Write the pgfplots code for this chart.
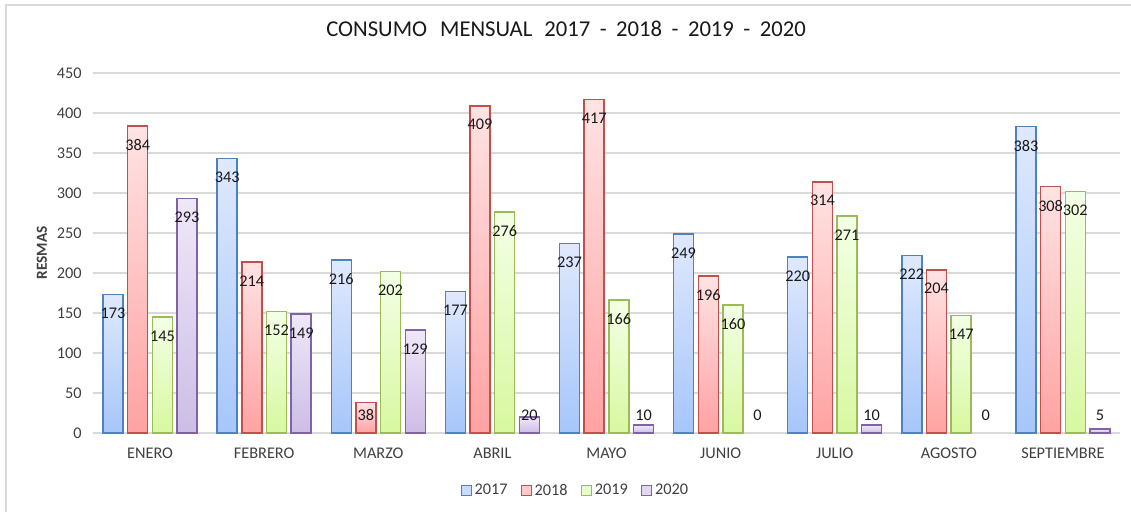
\documentclass[border=0pt]{standalone}
\usepackage{pgfplots}
\pgfplotsset{compat=1.18}
\usepackage{pgfplotstable}
\usepackage{fontspec}
\setmainfont{Carlito}

\definecolor{c17}{HTML}{4F81BD}
\definecolor{t17}{HTML}{DFE9FD}
\definecolor{b17}{HTML}{A6C6FA}
\definecolor{c18}{HTML}{C0504D}
\definecolor{t18}{HTML}{FFE3E3}
\definecolor{b18}{HTML}{FFA2A2}
\definecolor{c19}{HTML}{9BBB59}
\definecolor{t19}{HTML}{F3FFE6}
\definecolor{b19}{HTML}{D8F8A0}
\definecolor{c20}{HTML}{8064A2}
\definecolor{t20}{HTML}{EFE8F8}
\definecolor{b20}{HTML}{CDBDE6}
\definecolor{gridgray}{HTML}{D9D9D9}
\definecolor{txtgray}{HTML}{404040}

\pgfplotstableread{
idx v17 v18 v19 v20
0 173 384 145 293
1 343 214 152 149
2 216 38 202 129
3 177 409 276 20
4 237 417 166 10
5 249 196 160 0
6 220 314 271 10
7 222 204 147 0
8 383 308 302 5
}\datatable

\pgfplotsset{
  onebar/.style={ybar, bar width=15bp, line width=1.1bp, forget plot,
    x filter/.expression={abs(x-#1)<0.1 ? x : nan},
    y filter/.expression={y==0 ? nan : y}},
  onelabel/.style={only marks, mark=none, forget plot,
    x filter/.expression={abs(x-#1)<0.1 ? x : nan},
    nodes near coords,
    visualization depends on={y \as \rawy},
    every node near coord/.append style={anchor=center, text=black!90,
      font=\fontsize{12.2bp}{14bp}\selectfont,
      yshift={-0.75*min(19,0.8*\rawy-18)}}},
  s17/.style={draw=c17, top color=t17, bottom color=b17, bar shift=-27.75bp},
  s18/.style={draw=c18, top color=t18, bottom color=b18, bar shift=-9.25bp},
  s19/.style={draw=c19, top color=t19, bottom color=b19, bar shift=9.25bp},
  s20/.style={draw=c20, top color=t20, bottom color=b20, bar shift=27.75bp},
  l17/.style={every node near coord/.append style={xshift=-27.75bp}},
  l18/.style={every node near coord/.append style={xshift=-9.25bp}},
  l19/.style={every node near coord/.append style={xshift=9.25bp}},
  l20/.style={every node near coord/.append style={xshift=27.75bp}},
}

\begin{document}
\begin{tikzpicture}
\useasboundingbox (-69.75bp,-59.25bp) rectangle (778.5bp,324.75bp);
\fill[white] (-69.75bp,-59.25bp) rectangle (778.5bp,324.75bp);
\draw[color=gridgray, line width=1.3bp] (-65.25bp,-59.25bp) -- (-65.25bp,321bp) -- (778.5bp,321bp);
\begin{axis}[
  scale only axis,
  width=770.25bp, height=270bp,
  xmin=-0.5, xmax=8.5, ymin=0, ymax=450,
  ytick={0,50,...,450},
  xtick={0,...,8},
  xticklabels={ENERO,FEBRERO,MARZO,ABRIL,MAYO,JUNIO,JULIO,AGOSTO,SEPTIEMBRE},
  axis line style={draw=none},
  major tick length=0pt,
  ymajorgrids,
  grid style={gridgray, line width=0.9bp},
  /pgf/number format/assume math mode=true,
  tick label style={font=\fontsize{12.2bp}{14bp}\selectfont, text=txtgray},
  yticklabel style={anchor=east, inner sep=0pt, xshift=-8.25bp},
  xticklabel style={anchor=center, inner sep=0pt, yshift=-15bp},
  title={CONSUMO\hspace{9.75bp}MENSUAL\hspace{9bp}2017\hspace{7.1bp}-\hspace{7.1bp}2018\hspace{7.1bp}-\hspace{7.1bp}2019\hspace{7.1bp}-\hspace{7.1bp}2020},
  title style={at={(0.4606,1.1)}, anchor=center, inner sep=0pt,
    font=\fontsize{17bp}{20bp}\selectfont, text=black!90},
  ylabel={RESMAS},
  ylabel style={at={(-0.0497,0.5)}, anchor=center, inner sep=0pt,
    font=\bfseries\fontsize{11.5bp}{13bp}\selectfont, text=txtgray},
  legend style={at={(0.470,-0.160)}, anchor=center, draw=none, fill=none,
    legend columns=4, font=\fontsize{12.2bp}{14bp}\selectfont, text=txtgray,
    /tikz/every even column/.append style={column sep=8bp}},
  legend image code/.code={\draw[line width=0.9bp,#1] (0bp,-3.75bp) rectangle (7.5bp,3.75bp);},
]
\pgfplotsinvokeforeach{0,1,2,3,4,5,6,7,8}{
  \addplot[onebar=#1, s17] table[x=idx, y=v17] {\datatable};
  \addplot[onebar=#1, s18] table[x=idx, y=v18] {\datatable};
  \addplot[onebar=#1, s19] table[x=idx, y=v19] {\datatable};
  \addplot[onebar=#1, s20] table[x=idx, y=v20] {\datatable};
}
\pgfplotsinvokeforeach{0,1,2,3,4,5,6,7,8}{
  \addplot[onelabel=#1, l17] table[x=idx, y=v17] {\datatable};
  \addplot[onelabel=#1, l18] table[x=idx, y=v18] {\datatable};
  \addplot[onelabel=#1, l19] table[x=idx, y=v19] {\datatable};
  \addplot[onelabel=#1, l20] table[x=idx, y=v20] {\datatable};
}
\addlegendimage{draw=c17, fill=t17!60!b17}
\addlegendentry{2017}
\addlegendimage{draw=c18, fill=t18!60!b18}
\addlegendentry{2018}
\addlegendimage{draw=c19, fill=t19!60!b19}
\addlegendentry{2019}
\addlegendimage{draw=c20, fill=t20!60!b20}
\addlegendentry{2020}
\end{axis}
\end{tikzpicture}
\end{document}
